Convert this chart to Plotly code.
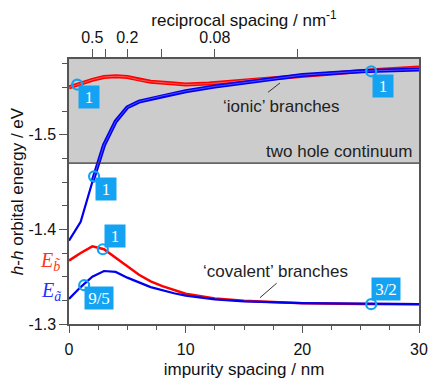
import plotly.graph_objects as go

# ionic branches (inside the two hole continuum)
ionic_a_x = [0, 1, 2, 3, 4, 5, 6, 8, 10, 12.5, 15, 20, 25, 30]
ionic_a_y = [-1.388, -1.408, -1.450, -1.489, -1.514, -1.529, -1.535, -1.541,
             -1.546, -1.551, -1.555, -1.563, -1.567, -1.569]
ionic_b_x = [0, 0.7, 2, 3, 4, 5, 6, 7, 9, 10, 12, 14, 18, 22, 26, 30]
ionic_b_y = [-1.550, -1.553, -1.558, -1.561, -1.5617, -1.561, -1.558, -1.556,
             -1.554, -1.553, -1.554, -1.556, -1.561, -1.565, -1.568, -1.571]

# covalent branches
cov_b_x = [0, 1, 2, 3, 4, 5, 6, 7, 8, 10, 12.5, 15, 20, 25, 30]
cov_b_y = [-1.367, -1.375, -1.382, -1.379, -1.370, -1.361, -1.352, -1.345,
           -1.340, -1.332, -1.327, -1.3245, -1.322, -1.3212, -1.321]
cov_a_x = [0, 1, 2, 3, 4, 5, 6, 7, 9, 10, 12.5, 15, 20, 25, 30]
cov_a_y = [-1.3265, -1.339, -1.350, -1.356, -1.355, -1.349, -1.344, -1.339,
           -1.3325, -1.330, -1.326, -1.3238, -1.322, -1.3212, -1.321]

# marked points and their labels
mark_x = [0.7, 25.9, 2.15, 2.9, 1.3, 25.9]
mark_y = [-1.553, -1.567, -1.456, -1.379, -1.341, -1.321]
mark_text = ["1", "1", "1", "1", "9/5", "3/2"]

# top axis: reciprocal spacing
top_tick_pos = [2.0, 5.0, 12.5]
top_tick_text = ["0.5", "0.2", "0.08"]
top_minor_pos = [3.1, 7.9, 19.6]

continuum_edge = -1.47
y_top = -1.58

RED = "#ff0000"
BLUE = "#0000ee"
MARK = "#14a3f2"
SANS = "Liberation Sans, Arial, sans-serif"
SERIF = "Liberation Serif, Times New Roman, serif"

fig = go.Figure()

# bundled ionic curves: thick band with a faint stripe through it
# (the blue bundle only fans out beyond ~2 nm)
fig.add_trace(go.Scatter(x=ionic_a_x[:3], y=ionic_a_y[:3], mode="lines",
                         line=dict(color=BLUE, width=2.2), hoverinfo="skip"))
for xs, ys, col, pale in [(ionic_b_x, ionic_b_y, RED, "#ff7070"),
                          (ionic_a_x[2:], ionic_a_y[2:], BLUE, "#6060ff")]:
    fig.add_trace(go.Scatter(x=xs, y=ys, mode="lines",
                             line=dict(color=col, width=4), hoverinfo="skip"))
    fig.add_trace(go.Scatter(x=xs, y=ys, mode="lines",
                             line=dict(color=pale, width=0.8), hoverinfo="skip"))

fig.add_trace(go.Scatter(x=cov_b_x, y=cov_b_y, mode="lines",
                         line=dict(color=RED, width=2.5)))
fig.add_trace(go.Scatter(x=cov_a_x, y=cov_a_y, mode="lines",
                         line=dict(color=BLUE, width=2.2)))

fig.add_trace(go.Scatter(x=mark_x, y=mark_y, mode="markers",
                         marker=dict(symbol="circle-open", size=10, color=MARK,
                                     line=dict(color=MARK, width=2.2)),
                         cliponaxis=False))

# dummy trace so the top axis is drawn
fig.add_trace(go.Scatter(x=[0, 30], y=[y_top, y_top], xaxis="x2", mode="lines",
                         line=dict(width=0), hoverinfo="skip"))

# label boxes next to the markers
shifts = [(12, -12), (12, -15), (12, -13), (12, 13), (15, -13), (15, 15)]
for x, y, t, (dx, dy) in zip(mark_x, mark_y, mark_text, shifts):
    fig.add_annotation(x=x, y=y, text=t, showarrow=False, xshift=dx, yshift=dy,
                       bgcolor=MARK, borderpad=3,
                       width=14 if len(t) == 1 else 22, height=16,
                       font=dict(family=SERIF, size=17, color="white"))

# continuum shading
fig.add_shape(type="rect", xref="x domain", yref="y", x0=0, x1=1,
              y0=continuum_edge, y1=y_top, fillcolor="#cccccc",
              line=dict(width=0), layer="below")
fig.add_shape(type="line", xref="x domain", yref="y", x0=0, x1=1,
              y0=continuum_edge, y1=continuum_edge,
              line=dict(color="#333333", width=1.2))

# pointer lines for branch labels
fig.add_shape(type="line", x0=17.06, y0=-1.5448, x1=18.09, y1=-1.5547,
              line=dict(color="#333333", width=1))
fig.add_shape(type="line", x0=16.37, y0=-1.3278, x1=17.80, y1=-1.3431,
              line=dict(color="#333333", width=1))

txt = dict(family=SANS, size=17, color="#222222")
fig.add_annotation(x=18.23, y=-1.5293, text="\u2018ionic\u2019 branches",
                   showarrow=False, font=txt)
fig.add_annotation(x=17.66, y=-1.3553, text="\u2018covalent\u2019 branches",
                   showarrow=False, font=txt)
fig.add_annotation(x=29.6, y=-1.4823, text="two hole continuum", xanchor="right",
                   showarrow=False, font=txt)

fig.add_annotation(xref="paper", x=-0.052, y=-1.366, xanchor="center",
                   text="<i>E</i><sub><i>b\u0303</i></sub>", showarrow=False,
                   font=dict(family=SERIF, size=20, color="#ff3322"))
fig.add_annotation(xref="paper", x=-0.052, y=-1.334, xanchor="center",
                   text="<i>E</i><sub><i>\u00e3</i></sub>", showarrow=False,
                   font=dict(family=SERIF, size=20, color="#2233ff"))

axis_col = "#555555"
# page body adds an 8 px offset, so the figure is drawn 8 px smaller
fig.update_layout(
    width=428, height=372,
    margin=dict(l=61, r=17, t=51, b=56),
    paper_bgcolor="white", plot_bgcolor="white",
    showlegend=False,
    font=dict(family=SANS, size=16, color="#111111"),
    xaxis=dict(range=[0, 30], tickvals=[0, 10, 20, 30], ticks="outside",
               ticklen=7, tickcolor=axis_col, showline=True, linecolor=axis_col,
               linewidth=1.5, showgrid=False, zeroline=False, automargin=False,
               ticklabelstandoff=3,
               minor=dict(dtick=2.5, ticks="outside", ticklen=4, tickcolor=axis_col),
               title=dict(text="impurity spacing / nm", font=dict(size=17),
                          standoff=6)),
    xaxis2=dict(range=[0, 30], overlaying="x", side="top", tickmode="array",
                tickvals=top_tick_pos, ticktext=top_tick_text, ticks="outside",
                ticklen=8, tickcolor=axis_col, showline=True, linecolor=axis_col,
                linewidth=1.5, showgrid=False, zeroline=False, automargin=False,
                minor=dict(tickmode="array", tickvals=top_minor_pos,
                           ticks="outside", ticklen=8, tickcolor=axis_col),
                title=dict(text="reciprocal spacing / nm<sup>-1</sup>",
                           font=dict(size=17), standoff=6)),
    yaxis=dict(range=[-1.30, y_top], tickvals=[-1.5, -1.4, -1.3],
               ticktext=["-1.5", "-1.4", "-1.3"], ticks="outside", ticklen=8,
               tickcolor=axis_col, showline=True, linecolor=axis_col,
               linewidth=1.5, mirror=True, showgrid=False, zeroline=False,
               automargin=False,
               minor=dict(dtick=0.025, tick0=-1.3, ticks="outside", ticklen=5,
                          tickcolor=axis_col),
               title=dict(text="<i>h</i>-<i>h</i> orbital energy / eV",
                          font=dict(size=17), standoff=4)),
)

fig.write_html("out.html")
